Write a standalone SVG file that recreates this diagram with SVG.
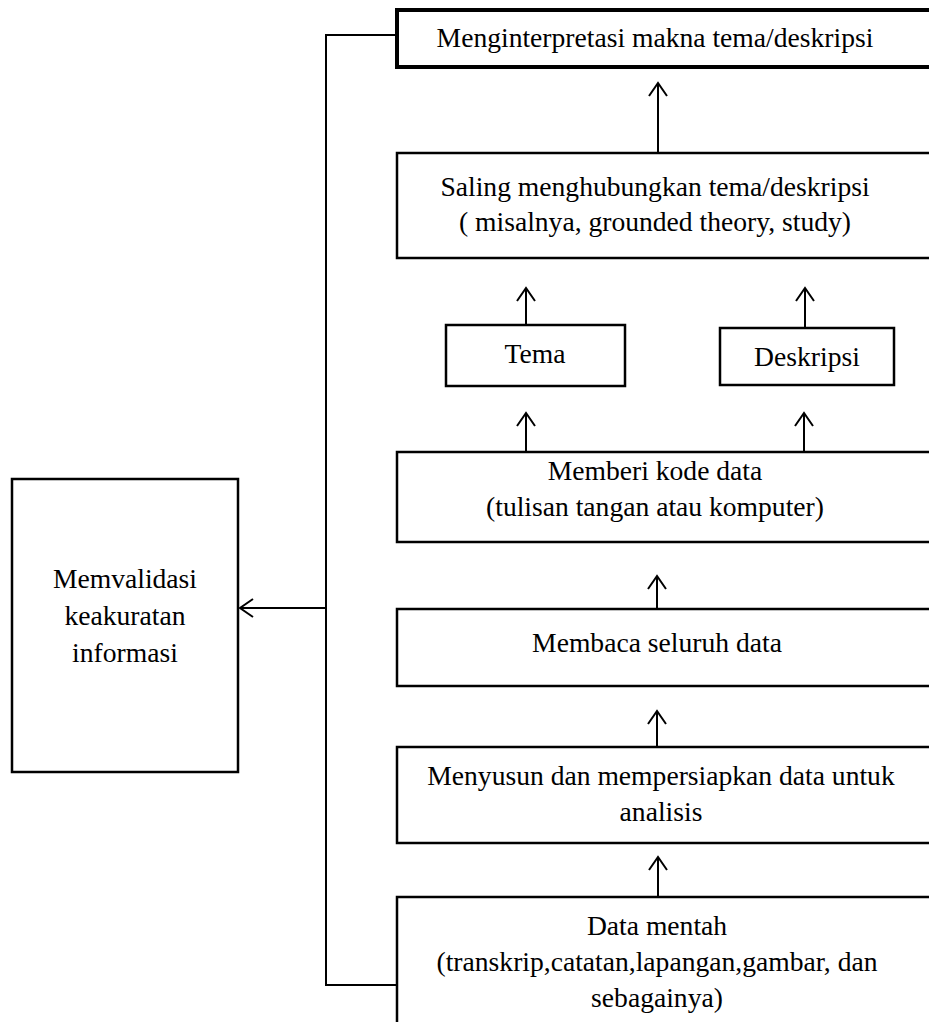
<svg xmlns="http://www.w3.org/2000/svg" width="929" height="1022" viewBox="0 0 929 1022">
<style>
.box{fill:#fff;stroke:#000;stroke-width:2.5}
.thick{stroke-width:4}
.t{font-family:"Liberation Serif","Times New Roman",serif;font-size:27.6px;fill:#000;text-anchor:middle}
.c{fill:none;stroke:#000;stroke-width:2}
</style>
<defs>
<marker id="ah" markerUnits="userSpaceOnUse" markerWidth="30" markerHeight="30" viewBox="-15 -15 30 30" refX="0" refY="0" orient="auto">
<path d="M-13,-9 L0,0 L-13,9" fill="none" stroke="#000" stroke-width="2"/>
</marker>
</defs>
<rect width="929" height="1022" fill="#fff"/>
<g id="connectors">
<polyline class="c" points="397,35 326,35 326,985 397,985"/>
<line class="c" x1="326" y1="608" x2="240" y2="608" marker-end="url(#ah)"/>
<line class="c" x1="658" y1="153" x2="658" y2="83" marker-end="url(#ah)"/>
<line class="c" x1="526" y1="325" x2="526" y2="288" marker-end="url(#ah)"/>
<line class="c" x1="805" y1="328" x2="805" y2="288" marker-end="url(#ah)"/>
<line class="c" x1="526" y1="452" x2="526" y2="413" marker-end="url(#ah)"/>
<line class="c" x1="804" y1="452" x2="804" y2="413" marker-end="url(#ah)"/>
<line class="c" x1="657" y1="609" x2="657" y2="576" marker-end="url(#ah)"/>
<line class="c" x1="657" y1="747" x2="657" y2="711" marker-end="url(#ah)"/>
<line class="c" x1="658" y1="897" x2="658" y2="857" marker-end="url(#ah)"/>
</g>
<g id="n_interpret">
<rect class="box thick" x="397" y="10" width="545" height="57"/>
<text class="t" x="655" y="47">Menginterpretasi makna tema/deskripsi</text>
</g>
<g id="n_saling">
<rect class="box" x="397" y="153" width="545" height="105"/>
<text class="t" x="655" y="196">Saling menghubungkan tema/deskripsi</text>
<text class="t" x="655" y="231">( misalnya, grounded theory, study)</text>
</g>
<g id="n_tema">
<rect class="box" x="446" y="325" width="179" height="61"/>
<text class="t" x="535" y="363">Tema</text>
</g>
<g id="n_deskripsi">
<rect class="box" x="720" y="328" width="174" height="57"/>
<text class="t" x="807" y="366">Deskripsi</text>
</g>
<g id="n_kode">
<rect class="box" x="397" y="452" width="545" height="90"/>
<text class="t" x="655" y="480">Memberi kode data</text>
<text class="t" x="655" y="516">(tulisan tangan atau komputer)</text>
</g>
<g id="n_baca">
<rect class="box" x="397" y="609" width="545" height="77"/>
<text class="t" x="657" y="652">Membaca seluruh data</text>
</g>
<g id="n_susun">
<rect class="box" x="397" y="747" width="545" height="96"/>
<text class="t" x="661" y="785">Menyusun dan mempersiapkan data untuk</text>
<text class="t" x="661" y="821">analisis</text>
</g>
<g id="n_data">
<rect class="box" x="397" y="897" width="545" height="140"/>
<text class="t" x="657" y="935">Data mentah</text>
<text class="t" x="657" y="971">(transkrip,catatan,lapangan,gambar, dan</text>
<text class="t" x="657" y="1007">sebagainya)</text>
</g>
<g id="n_validasi">
<rect class="box" x="12" y="479" width="226" height="293"/>
<text class="t" x="125" y="588">Memvalidasi</text>
<text class="t" x="125" y="625">keakuratan</text>
<text class="t" x="125" y="662">informasi</text>
</g>
</svg>
